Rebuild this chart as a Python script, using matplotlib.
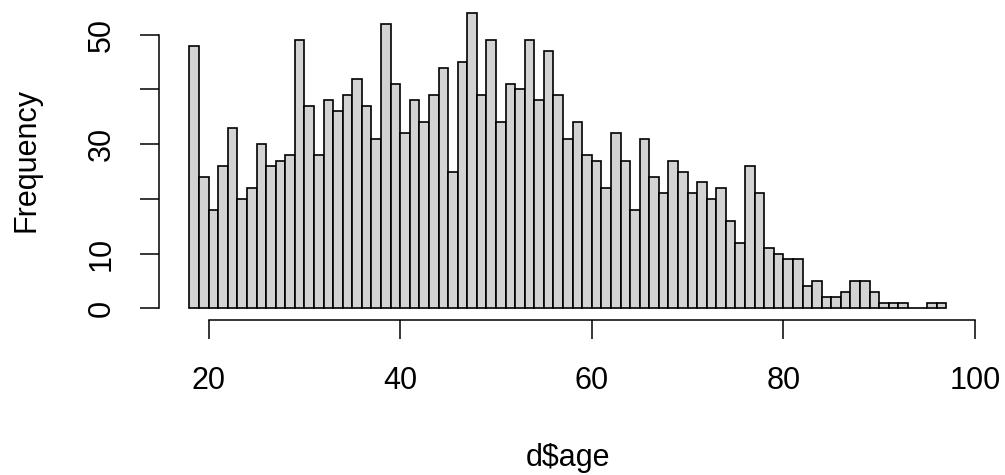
import numpy as np
import matplotlib
matplotlib.use("Agg")
import matplotlib.pyplot as plt

# histogram of d$age, one-year bins from 18 to 97
bin_left = list(range(18, 97))
counts = [48, 24, 18, 26, 33, 20, 22, 30, 26, 27,   # 18-27
          28, 49, 37, 28, 38, 36, 39, 42, 37, 31,   # 28-37
          52, 41, 32, 38, 34, 39, 44, 25, 45, 54,   # 38-47
          39, 49, 34, 41, 40, 49, 38, 47, 39, 31,   # 48-57
          34, 28, 27, 22, 32, 27, 18, 31, 24, 21,   # 58-67
          27, 25, 21, 23, 20, 22, 16, 12, 26, 21,   # 68-77
          11, 10, 9, 9, 4, 5, 2, 2, 3, 5,           # 78-87
          5, 3, 1, 1, 1, 0, 0, 1, 1]                # 88-96
xticks = [20, 40, 60, 80, 100]
yticks = [0, 10, 20, 30, 40, 50]
ytick_labels = ["0", "10", "", "30", "", "50"]

plt.rcParams["font.family"] = ["Liberation Sans", "DejaVu Sans"]

fig = plt.figure(figsize=(10.05, 4.75), dpi=100)
ax = fig.add_axes([159.2 / 1005, 1 - 320.1 / 475, (976.5 - 159.2) / 1005, (320.1 - 1.1) / 475])

ax.bar(bin_left, counts, width=1, align="edge", color="#d3d3d3",
       edgecolor="black", linewidth=1.2)

# R-style extents: 4% padding around data range
lo, hi = 18, 97
ax.set_xlim(lo - 0.04 * (hi - lo), hi + 0.04 * (hi - lo))
ax.set_ylim(-0.04 * max(counts), max(counts) * 1.04)

for s in ["top", "right"]:
    ax.spines[s].set_visible(False)
ax.spines["left"].set_bounds(0, 50)
ax.spines["bottom"].set_bounds(20, 100)
ax.spines["left"].set_linewidth(1.1)
ax.spines["bottom"].set_linewidth(1.1)

ax.set_xticks(xticks)
ax.set_xticklabels([str(v) for v in xticks])
ax.set_yticks(yticks)
ax.set_yticklabels(ytick_labels, rotation=90, va="center")
ax.tick_params(axis="x", length=13.7, width=1.1, labelsize=22, pad=19)
ax.tick_params(axis="y", length=13.7, width=1.1, labelsize=22, pad=17)

fig.text(0.5 * (159.2 + 976.5) / 1005, 1 - 458 / 475, "d$age", fontsize=22,
         ha="center", va="center")
fig.text(27 / 1005, 1 - 160 / 475, "Frequency", fontsize=22, rotation=90,
         ha="center", va="center")

fig.savefig("out.png", dpi=100)
